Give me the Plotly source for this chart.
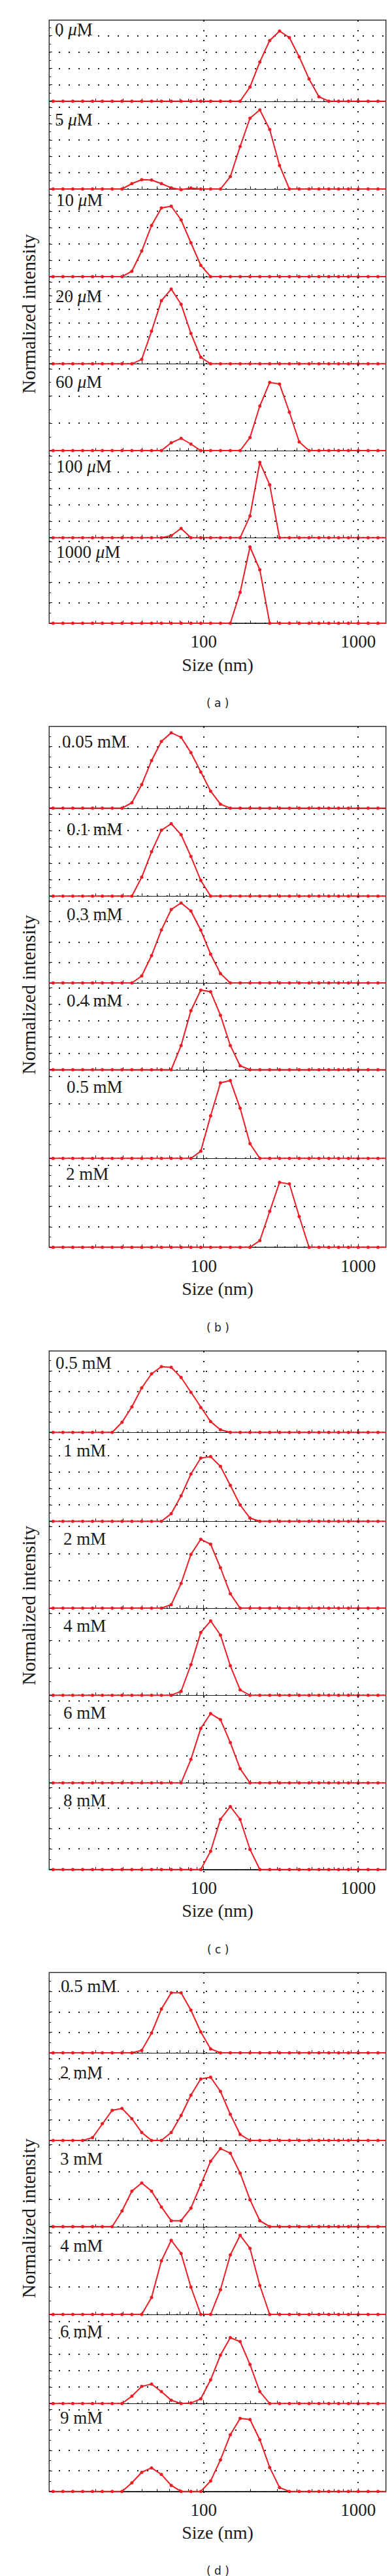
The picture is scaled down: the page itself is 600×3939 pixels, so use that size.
import plotly.graph_objects as go

W, H = 600, 3939

sizes = [9.15, 10.60, 12.27, 14.21, 16.46, 19.06,
         22.07, 25.56, 29.60, 34.27, 39.69, 45.96,
         53.21, 61.62, 71.36, 82.62, 95.68, 110.8,
         128.3, 148.6, 172.0, 199.2, 230.7, 267.2,
         309.4, 358.3, 414.9, 480.4, 556.4, 644.3,
         746.1, 863.9, 1000.0, 1158.0, 1341.0, 1553.0]

# panel (a) - intensities in a common vertical unit
a_0uM = [0, 0, 0, 0, 0, 0, 0, 0, 0, 0, 0, 0, 0, 0, 0, 0, 0, 0,
         0, 0, 0, 0.87, 2.4, 3.71, 4.29, 3.89, 2.71, 1.36, 0.27, 0, 0, 0, 0, 0, 0, 0]
a_5uM = [0, 0, 0, 0, 0, 0, 0, 0, 0, 0.33, 0.57, 0.55, 0.33, 0.07, -0.04, 0.06, 0, 0,
         0, 0.76, 2.6, 4.33, 4.84, 3.64, 1.44, 0, 0, 0, 0, 0, 0, 0, 0, 0, 0, 0]
a_10uM = [0, 0, 0, 0, 0, 0, 0, 0, 0, 0.33, 1.57, 3.13, 4.2, 4.31, 3.47, 2.07, 0.69, 0,
          0, 0, 0, 0, 0, 0, 0, 0, 0, 0, 0, 0, 0, 0, 0, 0, 0, 0]
a_20uM = [0, 0, 0, 0, 0, 0, 0, 0, 0, 0, 0.27, 2.0, 3.86, 4.57, 3.64, 1.86, 0.4, 0,
          0, 0, 0, 0, 0, 0, 0, 0, 0, 0, 0, 0, 0, 0, 0, 0, 0, 0]
a_60uM = [0, 0, 0, 0, 0, 0, 0, 0, 0, 0, 0, 0, 0, 0.48, 0.75, 0.4, 0, 0,
          0, 0, 0, 0.8, 2.73, 4.17, 4.07, 2.35, 0.53, 0, 0, 0, 0, 0, 0, 0, 0, 0]
a_100uM = [0, 0, 0, 0, 0, 0, 0, 0, 0, 0, 0, 0, 0, 0.13, 0.57, 0, 0, 0,
           0, 0, 0, 1.33, 4.61, 3.24, 0, 0, 0, 0, 0, 0, 0, 0, 0, 0, 0, 0]
a_1000uM = [0, 0, 0, 0, 0, 0, 0, 0, 0, 0, 0, 0, 0, 0, 0, 0, 0, 0,
            0, 0, 1.89, 4.67, 3.27, 0, 0, 0, 0, 0, 0, 0, 0, 0, 0, 0, 0, 0]

# panel (b)
b_005mM = [0, 0, 0, 0, 0, 0, 0, 0, 0, 0.33, 1.44, 2.91, 4.08, 4.61, 4.33, 3.4, 2.21, 1.04,
           0.24, 0, 0, 0, 0, 0, 0, 0, 0, 0, 0, 0, 0, 0, 0, 0, 0, 0]
b_01mM = [0, 0, 0, 0, 0, 0, 0, 0, 0, 0, 1.16, 2.72, 4.03, 4.43, 3.76, 2.43, 0.96, 0,
          0, 0, 0, 0, 0, 0, 0, 0, 0, 0, 0, 0, 0, 0, 0, 0, 0, 0]
b_03mM = [0, 0, 0, 0, 0, 0, 0, 0, 0, 0, 0.43, 1.67, 3.24, 4.49, 4.89, 4.4, 3.23, 1.76,
          0.57, 0, 0, 0, 0, 0, 0, 0, 0, 0, 0, 0, 0, 0, 0, 0, 0, 0]
b_04mM = [0, 0, 0, 0, 0, 0, 0, 0, 0, 0, 0, 0, 0, 0, 1.48, 3.61, 4.87, 4.77,
          3.33, 1.48, 0.24, 0, 0, 0, 0, 0, 0, 0, 0, 0, 0, 0, 0, 0, 0, 0]
b_05mM = [0, 0, 0, 0, 0, 0, 0, 0, 0, 0, 0, 0, 0, 0, 0, 0, 0.44, 2.6,
          4.62, 4.76, 3.07, 0.9, 0, 0, 0, 0, 0, 0, 0, 0, 0, 0, 0, 0, 0, 0]
b_2mM = [0, 0, 0, 0, 0, 0, 0, 0, 0, 0, 0, 0, 0, 0, 0, 0, 0, 0,
         0, 0, 0, 0, 0.41, 2.2, 3.97, 3.88, 1.88, 0, 0, 0, 0, 0, 0, 0, 0, 0]

# panel (c)
c_05mM = [0, 0, 0, 0, 0, 0, 0, 0, 0.62, 1.56, 2.72, 3.58, 4.02, 3.98, 3.36, 2.45, 1.52, 0.66,
          0.16, 0, 0, 0, 0, 0, 0, 0, 0, 0, 0, 0, 0, 0, 0, 0, 0, 0]
c_1mM = [0, 0, 0, 0, 0, 0, 0, 0, 0, 0, 0, 0, 0, 0.47, 1.56, 2.89, 3.87, 3.96,
         3.36, 2.2, 1.0, 0.2, 0, 0, 0, 0, 0, 0, 0, 0, 0, 0, 0, 0, 0, 0]
c_2mM = [0, 0, 0, 0, 0, 0, 0, 0, 0, 0, 0, 0, 0, 0.21, 1.51, 3.28, 4.21, 3.91,
         2.47, 0.88, 0, 0, 0, 0, 0, 0, 0, 0, 0, 0, 0, 0, 0, 0, 0, 0]
c_4mM = [0, 0, 0, 0, 0, 0, 0, 0, 0, 0, 0, 0, 0, 0, 0.24, 1.87, 3.84, 4.55,
         3.68, 1.81, 0.33, 0, 0, 0, 0, 0, 0, 0, 0, 0, 0, 0, 0, 0, 0, 0]
c_6mM = [0, 0, 0, 0, 0, 0, 0, 0, 0, 0, 0, 0, 0, 0, 0, 1.44, 3.33, 4.24,
         3.87, 2.47, 0.87, 0, 0, 0, 0, 0, 0, 0, 0, 0, 0, 0, 0, 0, 0, 0]
c_8mM = [0, 0, 0, 0, 0, 0, 0, 0, 0, 0, 0, 0, 0, 0, 0, 0, 0, 1.12,
         3.07, 3.85, 3.07, 1.23, 0, 0, 0, 0, 0, 0, 0, 0, 0, 0, 0, 0, 0, 0]

# panel (d)
d_05mM = [0, 0, 0, 0, 0, 0, 0, 0, 0, 0, 0.15, 1.21, 2.68, 3.67, 3.67, 2.61, 1.28, 0.24,
          0, 0, 0, 0, 0, 0, 0, 0, 0, 0, 0, 0, 0, 0, 0, 0, 0, 0]
d_2mM = [0, 0, 0, 0, 0, 0.17, 1.03, 1.84, 1.96, 1.33, 0.49, 0, 0, 0.49, 1.53, 2.77, 3.76, 3.87,
         3.0, 1.6, 0.37, 0, 0, 0, 0, 0, 0, 0, 0, 0, 0, 0, 0, 0, 0, 0]
d_3mM = [0, 0, 0, 0, 0, 0, 0, 0, 0.96, 2.17, 2.67, 2.17, 1.2, 0.36, 0.36, 1.13, 2.56, 4.0,
         4.77, 4.49, 3.27, 1.64, 0.36, 0, 0, 0, 0, 0, 0, 0, 0, 0, 0, 0, 0, 0]
d_4mM = [0, 0, 0, 0, 0, 0, 0, 0, 0, 0, 0, 1.04, 3.28, 4.53, 3.73, 1.67, 0, 0,
         1.51, 3.64, 4.84, 4.04, 1.77, 0, 0, 0, 0, 0, 0, 0, 0, 0, 0, 0, 0, 0]
d_6mM = [0, 0, 0, 0, 0, 0, 0, 0, 0, 0.45, 1.05, 1.19, 0.73, 0.2, 0, 0.03, 0.29, 1.45,
         2.96, 4.03, 3.79, 2.39, 0.73, 0, 0, 0, 0, 0, 0, 0, 0, 0, 0, 0, 0, 0]
d_9mM = [0, 0, 0, 0, 0, 0, 0, 0, 0, 0.53, 1.17, 1.44, 1.04, 0.37, 0, 0, 0, 0.64,
         1.93, 3.47, 4.47, 4.4, 3.16, 1.47, 0.24, 0, 0, 0, 0, 0, 0, 0, 0, 0, 0, 0]

labels_a = ["0 <i>μ</i>M", "5 <i>μ</i>M", "10 <i>μ</i>M", "20 <i>μ</i>M",
            "60 <i>μ</i>M", "100 <i>μ</i>M", "1000 <i>μ</i>M"]
labels_b = ["0.05 mM", "0.1 mM", "0.3 mM", "0.4 mM", "0.5 mM", "2 mM"]
labels_c = ["0.5 mM", "1 mM", "2 mM", "4 mM", "6 mM", "8 mM"]
labels_d = ["0.5 mM", "2 mM", "3 mM", "4 mM", "6 mM", "9 mM"]

x_ticks = [100, 1000]
x_minor = [20, 30, 40, 50, 60, 70, 80, 90, 200, 300, 400, 500, 600, 700, 800, 900]

# layout of the four stacked panels (pixels from the top of the page)
panels = [
    dict(cap="( a )", cap_y=1067, ylab_y=472, top=22.7,
         base=[146.7, 281.0, 415.0, 548.3, 681.0, 814.3, 945.0],
         grid=[5, 5, 5, 6, 3, 5, 4],
         lab_x=[75, 75, 77, 76, 76, 77, 77], lab_dy=[14, 28, 17, 30, 28, 24, 22],
         labels=labels_a,
         series=[a_0uM, a_5uM, a_10uM, a_20uM, a_60uM, a_100uM, a_1000uM]),
    dict(cap="( b )", cap_y=2021.7, ylab_y=1513, top=1102.7,
         base=[1227.7, 1362.3, 1495.0, 1627.7, 1763.3, 1899.3],
         grid=[4, 5, 4, 5, 3, 4],
         lab_x=[86, 93, 93, 93, 93, 92], lab_dy=[23, 32, 28, 27, 26, 24],
         labels=labels_b,
         series=[b_005mM, b_01mM, b_03mM, b_04mM, b_05mM, b_2mM]),
    dict(cap="( c )", cap_y=2972.7, ylab_y=2447, top=2057.7,
         base=[2182.3, 2318.3, 2451.0, 2584.3, 2718.3, 2850.7],
         grid=[4, 5, 3, 3, 3, 4],
         lab_x=[76, 88, 88, 88, 88, 88], lab_dy=[18, 28, 27, 27, 27, 27],
         labels=labels_c,
         series=[c_05mM, c_1mM, c_2mM, c_4mM, c_6mM, c_8mM]),
    dict(cap="( d )", cap_y=3923.3, ylab_y=3384, top=3008.3,
         base=[3131.0, 3265.0, 3396.7, 3531.0, 3667.3, 3801.7],
         grid=[4, 4, 3, 3, 5, 4],
         lab_x=[84, 83, 83, 83, 83, 83], lab_dy=[21, 30, 28, 29, 26, 22],
         labels=labels_d,
         series=[d_05mM, d_2mM, d_3mM, d_4mM, d_6mM, d_9mM]),
]

RED = "#ec1c24"
INK = "#1a1a1a"
SERIF = "Liberation Serif"
DOTS = "2px,13px"
X0, X1 = 67.3 / W, 582.7 / W
UNIT = 25.0   # px per intensity unit
PAD = 4.0     # px kept below each baseline so the markers are not cut


def py(px):
    return 1 - px / H


fig = go.Figure()
annotations = []
shapes = []
n = 0
for p in panels:
    tops = [p["top"]] + p["base"][:-1]
    for j, (top, base) in enumerate(zip(tops, p["base"])):
        n += 1
        sfx = "" if n == 1 else str(n)
        last = j == len(p["base"]) - 1
        step = 5.0 / p["grid"][j]

        fig.add_trace(go.Scatter(
            x=sizes, y=p["series"][j], xaxis="x" + sfx, yaxis="y" + sfx,
            mode="lines+markers", line=dict(color=RED, width=2),
            marker=dict(color=RED, size=5), hoverinfo="skip"))

        fig.update_layout(**{
            "xaxis" + sfx: dict(
                type="log", range=[1, 3.179], domain=[X0, X1],
                anchor="free", position=py(base),
                showline=True, linecolor=INK, linewidth=1, layer="below traces",
                tickmode="array", tickvals=x_ticks, ticktext=[str(v) for v in x_ticks],
                ticks="inside", ticklen=5, tickcolor=INK,
                minor=dict(tickmode="array", tickvals=x_minor, ticks="inside",
                           ticklen=4, tickcolor=INK, showgrid=False),
                showgrid=True, gridcolor=INK, gridwidth=2, griddash=DOTS,
                showticklabels=last,
                tickfont=dict(family=SERIF, size=27, color=INK),
                ticklabelstandoff=4,
                title=dict(text="Size (nm)" if last else "",
                           font=dict(family=SERIF, size=28, color=INK), standoff=10),
                zeroline=False, fixedrange=True),
            "yaxis" + sfx: dict(
                domain=[py(base + PAD), py(top)],
                range=[-PAD / UNIT, (base - top) / UNIT], anchor="x" + sfx,
                tick0=0, dtick=step, ticks="inside", ticklen=5, tickcolor=INK,
                minor=dict(tick0=0, dtick=step / 2, ticks="inside", ticklen=3,
                           tickcolor=INK, showgrid=False),
                showgrid=True, gridcolor=INK, gridwidth=2, griddash=DOTS,
                showticklabels=False, zeroline=False, showline=False, fixedrange=True),
        })

        annotations.append(dict(
            text=p["labels"][j], xref="paper", yref="paper",
            x=p["lab_x"][j] / W, y=py(top + p["lab_dy"][j]),
            xanchor="left", yanchor="middle", showarrow=False, borderpad=0,
            font=dict(family=SERIF, size=27, color=INK)))

    shapes.append(dict(type="rect", xref="paper", yref="paper", layer="below",
                       x0=X0, x1=X1, y0=py(p["base"][-1]), y1=py(p["top"]),
                       line=dict(color="#333333", width=1.5)))
    annotations.append(dict(
        text="Normalized intensity", xref="paper", yref="paper",
        x=36 / W, y=py(p["ylab_y"]), xanchor="center", yanchor="middle",
        textangle=-90, showarrow=False,
        font=dict(family=SERIF, size=29, color=INK)))
    annotations.append(dict(
        text=p["cap"], xref="paper", yref="paper",
        x=0.5 * (X0 + X1), y=py(p["cap_y"]), xanchor="center", yanchor="middle",
        showarrow=False, font=dict(family="DejaVu Sans", size=17, color="#222222")))

fig.update_layout(
    width=W, height=H,
    margin=dict(l=0, r=0, t=0, b=0),
    paper_bgcolor="white", plot_bgcolor="rgba(0,0,0,0)",
    showlegend=False,
    annotations=annotations, shapes=shapes,
)

fig.write_html("out.html")
